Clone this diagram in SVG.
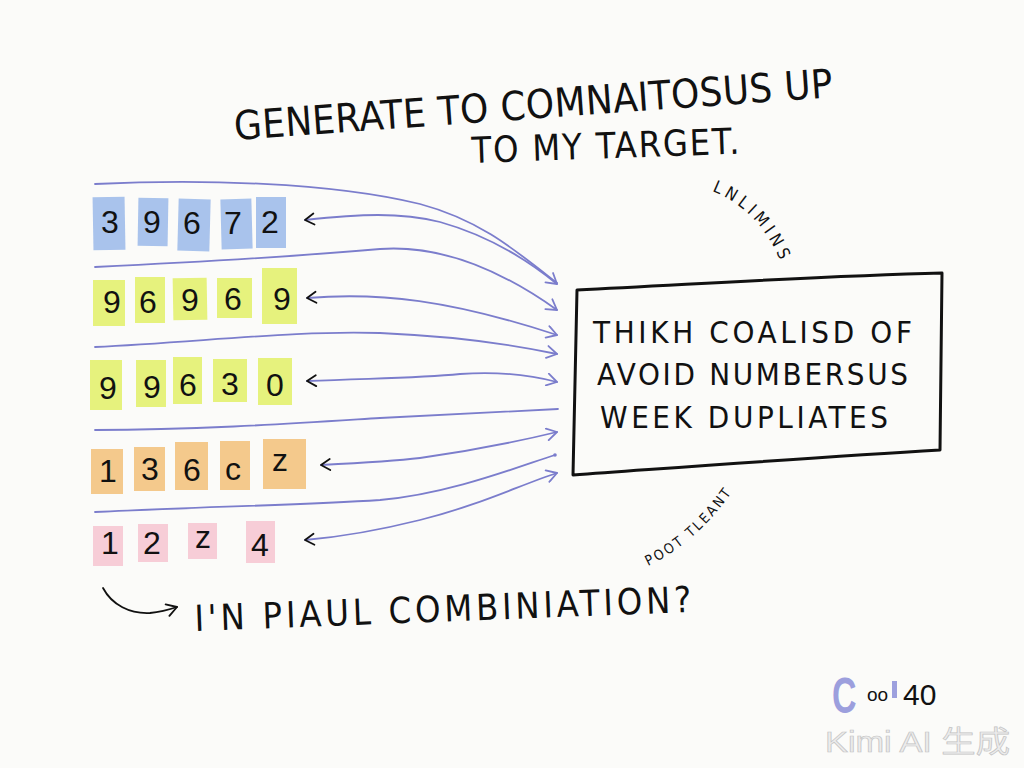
<svg xmlns="http://www.w3.org/2000/svg" width="1024" height="768" viewBox="0 0 1024 768">
<defs>
<style>
.hand{font-family:"Liberation Sans Narrow","DejaVu Sans Condensed","Liberation Sans",sans-serif;fill:#111}
.dig{font-family:"Liberation Sans","DejaVu Sans",sans-serif;fill:#111;font-size:32px;text-anchor:middle}
.conn{fill:none;stroke:#7b7dcc;stroke-width:1.8;stroke-linecap:round}
.blue{fill:#a9c3ec}
.yel{fill:#e6f27d}
.org{fill:#f4c98c}
.pink{fill:#f7cdd7}
</style>
<marker id="hb" viewBox="0 0 14 14" refX="12" refY="7" markerWidth="14" markerHeight="14" markerUnits="userSpaceOnUse" orient="auto-start-reverse">
<path d="M3,1.5 L12,7 L3,12.5" fill="none" stroke="#111" stroke-width="1.8" stroke-linecap="round" stroke-linejoin="round"/>
</marker>
<marker id="hp" viewBox="0 0 14 14" refX="12" refY="7" markerWidth="14" markerHeight="14" markerUnits="userSpaceOnUse" orient="auto">
<path d="M2,1 L12,7 L2,13" fill="none" stroke="#7b7dcc" stroke-width="1.8" stroke-linecap="round" stroke-linejoin="round"/>
</marker>
<marker id="hk" viewBox="0 0 14 14" refX="12" refY="7" markerWidth="14" markerHeight="14" markerUnits="userSpaceOnUse" orient="auto">
<path d="M2,1 L12,7 L2,13" fill="none" stroke="#111" stroke-width="1.8" stroke-linecap="round" stroke-linejoin="round"/>
</marker>
<path id="arcTop" d="M712,191 Q766,212 788,281"/>
<path id="arcBot" d="M648,566 Q702,540 740,480"/>
</defs>
<rect width="1024" height="768" fill="#fbfbf9"/>

<g id="title" class="hand">
<text x="235" y="140" font-size="40" textLength="600" lengthAdjust="spacing" transform="rotate(-4.1 235 140)">GENERATE TO COMNAITOSUS UP</text>
<text x="472" y="163" font-size="36" textLength="268" lengthAdjust="spacing" transform="rotate(-2 472 163)">TO MY TARGET.</text>
</g>

<g id="connectors">
<path class="conn" d="M95,184 C200,179 330,182 420,204 C480,220 515,250 557,283"/>
<path class="conn" d="M305,220 C360,214 400,212 440,222 C490,236 530,262 557,284" marker-start="url(#hb)" marker-end="url(#hp)"/>
<path class="conn" d="M95,267 C200,262 300,256 380,249 C450,244 515,280 557,310" marker-end="url(#hp)"/>
<path class="conn" d="M307,298 C380,292 450,300 557,335" marker-start="url(#hb)" marker-end="url(#hp)"/>
<path class="conn" d="M95,347 C200,342 300,330 380,333 C450,336 510,344 557,354" marker-end="url(#hp)"/>
<path class="conn" d="M307,381 C380,378 420,378 460,374 C500,371 530,375 557,382" marker-start="url(#hb)" marker-end="url(#hp)"/>
<path class="conn" d="M95,430 C200,430 300,423 380,418 C450,414 510,411 558,409"/>
<path class="conn" d="M321,465 C360,463 395,461 420,458 C470,451 520,441 557,432" marker-start="url(#hb)" marker-end="url(#hp)"/>
<path class="conn" d="M95,512 C200,507 300,505 380,500 C450,494 520,466 555,455"/>
<circle cx="555" cy="455" r="1.8" fill="#7b7dcc"/>
<path class="conn" d="M305,540 C340,537 380,530 420,520 C480,505 520,485 557,473" marker-start="url(#hb)" marker-end="url(#hp)"/>
<path d="M103,588 C112,605 130,614 150,613 C160,612 168,610 177,607" fill="none" stroke="#111" stroke-width="1.8" stroke-linecap="round" marker-end="url(#hk)"/>
</g>

<g id="row1">
<rect class="blue" x="93" y="197" width="32" height="53" transform="rotate(-1 109 223)"/>
<rect class="blue" x="138" y="198" width="30" height="48" transform="rotate(1 153 222)"/>
<rect class="blue" x="178" y="199" width="32" height="52" transform="rotate(1.5 194 225)"/>
<rect class="blue" x="221" y="199" width="31" height="50" transform="rotate(-1.5 236 224)"/>
<rect class="blue" x="256" y="197" width="30" height="51"/>
<text class="dig" x="110" y="233">3</text>
<text class="dig" x="152" y="233">9</text>
<text class="dig" x="192" y="234">6</text>
<text class="dig" x="233" y="234">7</text>
<text class="dig" x="270" y="233">2</text>
</g>

<g id="row2">
<rect class="yel" x="93" y="280" width="32" height="46"/>
<rect class="yel" x="135" y="277" width="30" height="46"/>
<rect class="yel" x="173" y="278" width="34" height="42" transform="rotate(-1 190 299)"/>
<rect class="yel" x="217" y="278" width="35" height="40"/>
<rect class="yel" x="262" y="268" width="35" height="56"/>
<text class="dig" x="112" y="313">9</text>
<text class="dig" x="148" y="313">6</text>
<text class="dig" x="190" y="311">9</text>
<text class="dig" x="233" y="310">6</text>
<text class="dig" x="282" y="310" font-size="27">9</text>
</g>

<g id="row3">
<rect class="yel" x="90" y="360" width="32" height="50"/>
<rect class="yel" x="136" y="360" width="30" height="47"/>
<rect class="yel" x="173" y="357" width="29" height="47"/>
<rect class="yel" x="213" y="359" width="34" height="43"/>
<rect class="yel" x="258" y="358" width="34" height="47"/>
<text class="dig" x="108" y="399">9</text>
<text class="dig" x="152" y="398">9</text>
<text class="dig" x="188" y="396">6</text>
<text class="dig" x="230" y="395">3</text>
<text class="dig" x="275" y="396">0</text>
</g>

<g id="row4">
<rect class="org" x="91" y="449" width="32" height="45"/>
<rect class="org" x="134" y="447" width="31" height="44"/>
<rect class="org" x="175" y="442" width="33" height="48"/>
<rect class="org" x="220" y="441" width="30" height="49"/>
<rect class="org" x="263" y="439" width="43" height="50"/>
<text class="dig" x="108" y="482">1</text>
<text class="dig" x="150" y="480">3</text>
<text class="dig" x="192" y="481">6</text>
<text class="dig" x="233" y="480" font-size="34">c</text>
<text class="dig" x="280" y="471" font-size="22">z</text>
</g>

<g id="row5">
<rect class="pink" x="93" y="526" width="30" height="40"/>
<rect class="pink" x="138" y="524" width="30" height="38"/>
<rect class="pink" x="188" y="523" width="29" height="36"/>
<rect class="pink" x="246" y="521" width="29" height="42"/>
<text class="dig" x="110" y="554" font-size="28">1</text>
<text class="dig" x="152" y="554" font-size="28">2</text>
<text class="dig" x="203" y="548" font-size="22">z</text>
<text class="dig" x="260" y="556" font-size="38">4</text>
</g>

<g id="box">
<path d="M577,290 C700,284 820,276 942,273 L940,450 C820,457 700,466 573,475 Z" fill="none" stroke="#111" stroke-width="3" stroke-linejoin="round"/>
<text class="hand" x="593" y="343" font-size="31" textLength="319" lengthAdjust="spacing">THIKH COALISD OF</text>
<text class="hand" x="597" y="385" font-size="31" textLength="311" lengthAdjust="spacing">AVOID NUMBERSUS</text>
<text class="hand" x="600" y="428" font-size="31" textLength="288" lengthAdjust="spacing">WEEK DUPLIATES</text>
</g>

<g id="labels" class="hand">
<text font-size="17"><textPath href="#arcTop" textLength="100" lengthAdjust="spacing">LNLIMINS</textPath></text>
<text font-size="14"><textPath href="#arcBot" textLength="112" lengthAdjust="spacing">POOT TLEANT</textPath></text>
<text x="195" y="631" font-size="36" textLength="497" lengthAdjust="spacing" transform="rotate(-2.2 195 631)">I'N PIAUL COMBINIATION?</text>
</g>

<g id="logo">
<text x="0" y="0" transform="translate(832 713) scale(0.85 1.25)" font-family="Liberation Sans, DejaVu Sans, sans-serif" font-size="40" font-weight="bold" fill="#8c8fd9" opacity="0.85">C</text>
<text x="867" y="701" font-family="Liberation Sans, DejaVu Sans, sans-serif" font-size="19" fill="#111">oo</text>
<rect x="892" y="681" width="5" height="17" fill="#8c8fd9" opacity="0.85"/>
<text x="903" y="705" font-family="Liberation Sans, DejaVu Sans, sans-serif" font-size="30" fill="#111">40</text>
<text x="825" y="752" font-family="Liberation Sans, 'Noto Sans CJK SC', sans-serif" font-size="30" fill="#ececec" stroke="#c4c4c4" stroke-width="0.7" textLength="185" lengthAdjust="spacingAndGlyphs">Kimi AI 生成</text>
</g>
</svg>
